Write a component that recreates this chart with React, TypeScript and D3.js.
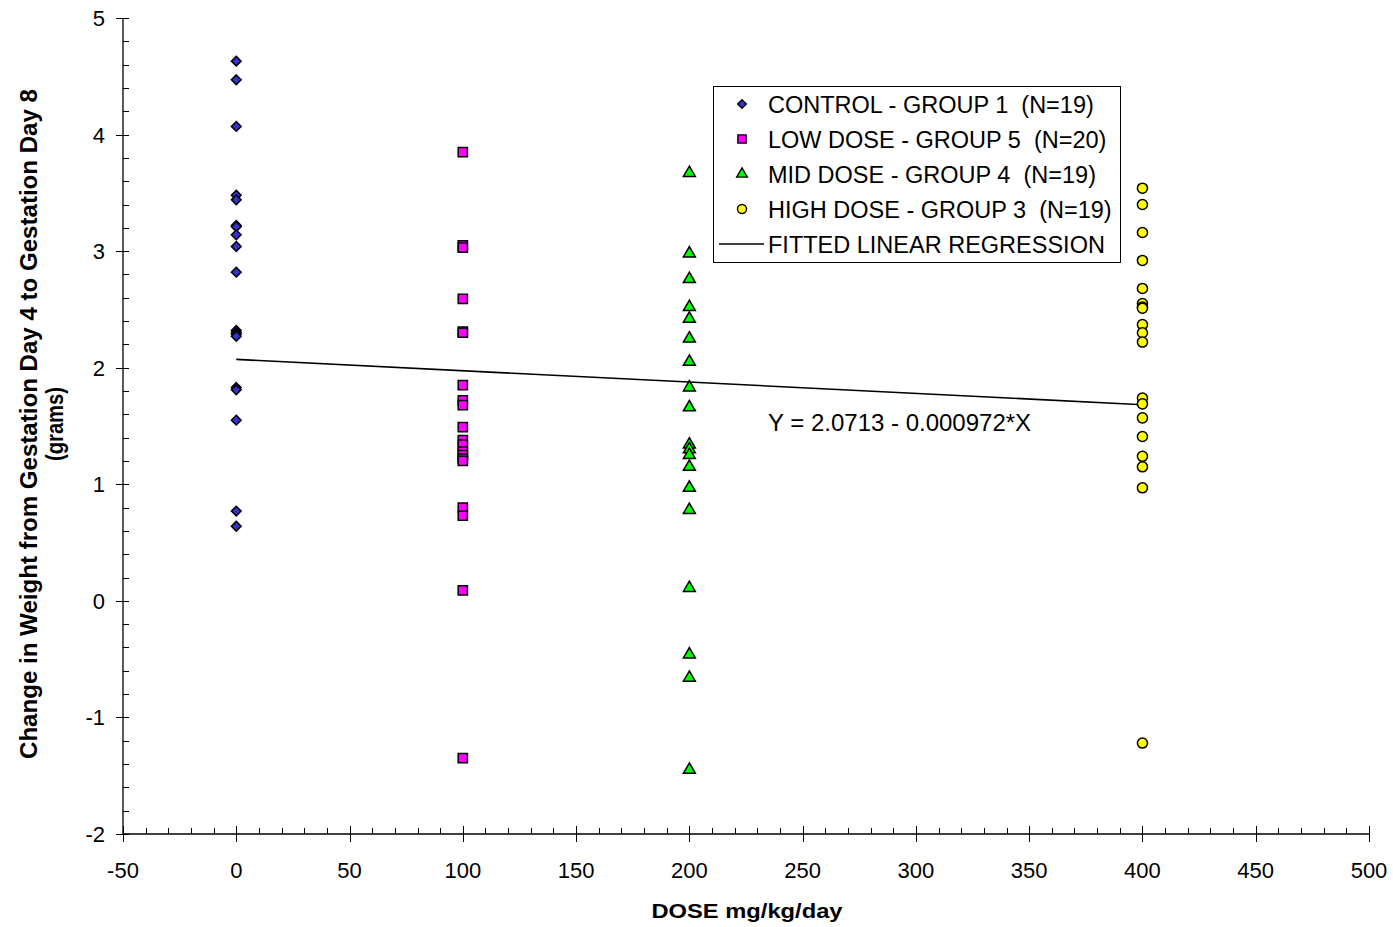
import React, { useEffect, useRef } from "react";
import * as d3 from "d3";

// Dose levels (mg/kg/day) for each group
const controlDose = 0;
const lowDose = 100;
const midDose = 200;
const highDose = 400;

// Change in weight GD4 -> GD8 (grams), per animal
const controlValues = [4.63, 4.47, 4.07, 3.48, 3.44, 3.22, 3.21, 3.14, 3.04, 2.82, 2.32, 2.30, 2.29, 2.27, 1.83, 1.81, 1.55, 0.77, 0.64];
const lowValues = [3.85, 3.05, 3.03, 2.59, 2.31, 2.30, 1.85, 1.72, 1.68, 1.49, 1.38, 1.34, 1.28, 1.25, 1.22, 1.20, 0.80, 0.73, 0.09, -1.35];
const midValues = [3.67, 2.98, 2.76, 2.52, 2.42, 2.25, 2.05, 1.83, 1.66, 1.34, 1.30, 1.25, 1.15, 0.97, 0.78, 0.11, -0.46, -0.66, -1.45];
const highValues = [3.54, 3.40, 3.16, 2.92, 2.68, 2.55, 2.52, 2.51, 2.37, 2.30, 2.22, 1.74, 1.69, 1.57, 1.41, 1.24, 1.15, 0.97, -1.22];

// Fitted regression Y = intercept + slope * X
const regIntercept = 2.0713;
const regSlope = -0.000972;
const regRange = [0, 400];

const xTicks = [-50, 0, 50, 100, 150, 200, 250, 300, 350, 400, 450, 500];
const yTicks = [-2, -1, 0, 1, 2, 3, 4, 5];

const legendLabels = [
  "CONTROL - GROUP 1  (N=19)",
  "LOW DOSE - GROUP 5  (N=20)",
  "MID DOSE - GROUP 4  (N=19)",
  "HIGH DOSE - GROUP 3  (N=19)",
  "FITTED LINEAR REGRESSION",
];

const W = 1393;
const H = 927;
const FONT = "Arial, 'Liberation Sans', Helvetica, sans-serif";

type Series = { dose: number; values: number[]; symbol: d3.SymbolType; fill: string; size: number };

const series: Series[] = [
  { dose: controlDose, values: controlValues, symbol: d3.symbolDiamond2, fill: "#3333cc", size: 60 },
  { dose: lowDose, values: lowValues, symbol: d3.symbolSquare, fill: "#ff00ff", size: 85 },
  { dose: midDose, values: midValues, symbol: d3.symbolTriangle, fill: "#00ff00", size: 62 },
  { dose: highDose, values: highValues, symbol: d3.symbolCircle, fill: "#ffff00", size: 80 },
];

export default function App() {
  const ref = useRef<SVGSVGElement>(null);

  useEffect(() => {
    const svg = d3.select(ref.current);
    svg.selectAll("*").remove();

    const left = 123, right = 1369, top = 18, bottom = 834;
    const x = d3.scaleLinear().domain([-50, 500]).range([left, right]);
    const y = d3.scaleLinear().domain([-2, 5]).range([bottom, top]);

    const g = svg.append("g");

    // Axis lines
    g.append("line").attr("x1", left).attr("x2", left).attr("y1", top).attr("y2", bottom)
      .attr("stroke", "#000").attr("stroke-width", 1.3);
    g.append("line").attr("x1", left).attr("x2", right).attr("y1", bottom).attr("y2", bottom)
      .attr("stroke", "#000").attr("stroke-width", 1.3);

    // Y minor ticks (inside)
    const yMinor = d3.range(-2, 5.0001, 0.2);
    g.selectAll(".ymin").data(yMinor).enter().append("line")
      .attr("x1", left).attr("x2", left + 6)
      .attr("y1", (d) => Math.round(y(d)) + 0.5).attr("y2", (d) => Math.round(y(d)) + 0.5)
      .attr("stroke", "#000").attr("stroke-width", 1);
    // Y major ticks (outside)
    g.selectAll(".ymaj").data(yTicks).enter().append("line")
      .attr("x1", left - 7).attr("x2", left)
      .attr("y1", (d) => Math.round(y(d)) + 0.5).attr("y2", (d) => Math.round(y(d)) + 0.5)
      .attr("stroke", "#000").attr("stroke-width", 1);
    g.selectAll(".ylab").data(yTicks).enter().append("text")
      .attr("x", 105).attr("y", (d) => y(d) + 8)
      .attr("text-anchor", "end").attr("font-family", FONT).attr("font-size", 22)
      .text((d) => String(d));

    // X minor ticks (inside)
    const xMinor = d3.range(-50, 500.001, 10);
    g.selectAll(".xmin").data(xMinor).enter().append("line")
      .attr("x1", (d) => Math.round(x(d)) + 0.5).attr("x2", (d) => Math.round(x(d)) + 0.5)
      .attr("y1", bottom - 6).attr("y2", bottom)
      .attr("stroke", "#000").attr("stroke-width", 1);
    // X major ticks (cross)
    g.selectAll(".xmaj").data(xTicks).enter().append("line")
      .attr("x1", (d) => Math.round(x(d)) + 0.5).attr("x2", (d) => Math.round(x(d)) + 0.5)
      .attr("y1", bottom - 8).attr("y2", bottom + 8)
      .attr("stroke", "#000").attr("stroke-width", 1);
    g.selectAll(".xlab").data(xTicks).enter().append("text")
      .attr("x", (d) => x(d)).attr("y", 878)
      .attr("text-anchor", "middle").attr("font-family", FONT).attr("font-size", 22)
      .text((d) => String(d));

    // Axis titles
    g.append("text").attr("x", 747).attr("y", 918).attr("text-anchor", "middle")
      .attr("font-family", FONT).attr("font-weight", "bold").attr("font-size", 21)
      .attr("textLength", 191).attr("lengthAdjust", "spacingAndGlyphs")
      .text("DOSE mg/kg/day");
    const yt = g.append("g").attr("transform", "translate(36.5,424) rotate(-90)");
    yt.append("text").attr("x", 0).attr("y", 0).attr("text-anchor", "middle")
      .attr("font-family", FONT).attr("font-weight", "bold").attr("font-size", 23)
      .attr("textLength", 670).attr("lengthAdjust", "spacingAndGlyphs")
      .text("Change in Weight from Gestation Day 4 to Gestation Day 8");
    yt.append("text").attr("x", 0).attr("y", 26).attr("text-anchor", "middle")
      .attr("font-family", FONT).attr("font-weight", "bold").attr("font-size", 23)
      .attr("textLength", 74).attr("lengthAdjust", "spacingAndGlyphs")
      .text("(grams)");

    // Regression line
    const line = d3.line<number>().x((d) => x(d)).y((d) => y(regIntercept + regSlope * d));
    g.append("path").attr("d", line(regRange) as string)
      .attr("fill", "none").attr("stroke", "#000").attr("stroke-width", 1.6);

    // Points
    series.forEach((s) => {
      const sym = d3.symbol().type(s.symbol).size(s.size)();
      g.append("g").selectAll("path").data(s.values).enter().append("path")
        .attr("d", sym as string)
        .attr("transform", (v) => `translate(${x(s.dose)},${y(v)})`)
        .attr("fill", s.fill).attr("stroke", "#000").attr("stroke-width", 1.5);
    });

    // Regression equation label
    g.append("text").attr("x", 768).attr("y", 431)
      .attr("font-family", FONT).attr("font-size", 24)
      .text(`Y = ${regIntercept} - ${Math.abs(regSlope).toFixed(6)}*X`);

    // Legend
    const lg = g.append("g");
    lg.append("rect").attr("x", 713.5).attr("y", 86.5).attr("width", 407).attr("height", 176)
      .attr("fill", "#fff").attr("stroke", "#000").attr("stroke-width", 1);
    legendLabels.forEach((lab, i) => {
      const cy = 104 + i * 35;
      if (i < 4) {
        const s = series[i];
        const sym = d3.symbol().type(s.symbol).size(s.size * 0.8)();
        lg.append("path").attr("d", sym as string)
          .attr("transform", `translate(742,${cy})`)
          .attr("fill", s.fill).attr("stroke", "#000").attr("stroke-width", 1.4);
      } else {
        lg.append("line").attr("x1", 719).attr("x2", 764).attr("y1", cy).attr("y2", cy)
          .attr("stroke", "#000").attr("stroke-width", 1.6);
      }
      lg.append("text").attr("x", 768).attr("y", cy + 8.5)
        .attr("font-family", FONT).attr("font-size", 23.5)
        .style("white-space", "pre")
        .text(lab);
    });
  }, []);

  return (
    <svg
      ref={ref}
      width={W}
      height={H}
      style={{ position: "absolute", left: 0, top: 0, background: "#fff" }}
    />
  );
}
